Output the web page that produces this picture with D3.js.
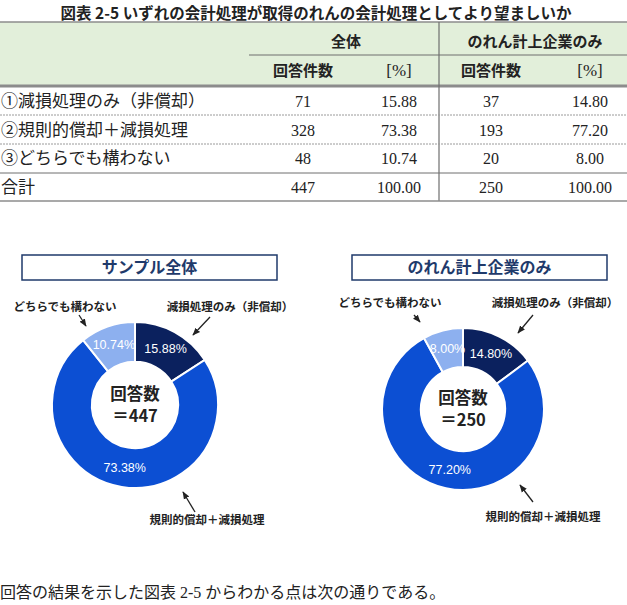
<!DOCTYPE html>
<html>
<head>
<meta charset="utf-8">
<script src="https://cdn.jsdelivr.net/npm/d3@7"></script>
<style>
  body { margin: 0; background: #fff; }
  svg { display: block; }
</style>
</head>
<body>
<div id="chart"></div>
<script>
// data
const categories = ["減損処理のみ（非償却）", "規則的償却＋減損処理", "どちらでも構わない"];
const rowLabels = ["①減損処理のみ（非償却）", "②規則的償却＋減損処理", "③どちらでも構わない", "合計"];
const countsAll = [71, 328, 48];
const pctAll = [15.88, 73.38, 10.74];
const countsGoodwill = [37, 193, 20];
const pctGoodwill = [14.80, 77.20, 8.00];
const totalAll = 447;
const totalGoodwill = 250;
const groupNames = ["全体", "のれん計上企業のみ"];
const colNames = ["回答件数", "[%]"];
const chartTitles = ["サンプル全体", "のれん計上企業のみ"];
const sliceColors = ["#0b215e", "#0c4fd3", "#8db0ef"];

const width = 627, height = 605;
const sans = "'Noto Sans CJK JP', 'Noto Sans', sans-serif";
const serif = "'Liberation Serif', 'Noto Sans CJK JP', serif";

const svg = d3.select("#chart").append("svg")
  .attr("width", width)
  .attr("height", height);

svg.append("defs").append("marker")
  .attr("id", "arrow")
  .attr("viewBox", "0 0 10 10")
  .attr("refX", 9).attr("refY", 5)
  .attr("markerWidth", 6).attr("markerHeight", 6)
  .attr("orient", "auto")
  .append("path")
    .attr("d", "M0,1 L10,5 L0,9 Z")
    .attr("fill", "#222");

// title
svg.append("text")
  .attr("x", 316).attr("y", 19)
  .attr("text-anchor", "middle")
  .style("font-family", sans).style("font-weight", "bold").style("font-size", "15.5px")
  .attr("fill", "#222")
  .text("図表 2-5 いずれの会計処理が取得のれんの会計処理としてより望ましいか");

// ---------- table ----------
const table = svg.append("g");
const colX = [303, 399, 491, 590];   // centres of the value columns
const rowY = d3.scalePoint().domain(d3.range(4)).range([101, 187]);
const divX = 439;

table.append("rect")
  .attr("x", 0).attr("y", 22).attr("width", width).attr("height", 63)
  .attr("fill", "#e2efda");

table.append("line").attr("x1", 0).attr("x2", width).attr("y1", 22).attr("y2", 22)
  .attr("stroke", "#8c8c8c").attr("stroke-width", 1.5);
table.append("line").attr("x1", 249).attr("x2", width).attr("y1", 55).attr("y2", 55)
  .attr("stroke", "#6e6e6e").attr("stroke-width", 1);
table.append("line").attr("x1", 0).attr("x2", width).attr("y1", 86).attr("y2", 86)
  .attr("stroke", "#8c8c8c").attr("stroke-width", 3);
table.append("line").attr("x1", divX).attr("x2", divX).attr("y1", 22).attr("y2", 201)
  .attr("stroke", "#6e6e6e").attr("stroke-width", 1.2);

[115, 144].forEach(y => {
  table.append("line").attr("x1", 0).attr("x2", width).attr("y1", y).attr("y2", y)
    .attr("stroke", "#9a9a9a").attr("stroke-width", 1).attr("stroke-dasharray", "2,1");
});
table.append("line").attr("x1", 0).attr("x2", width).attr("y1", 173).attr("y2", 173)
  .attr("stroke", "#6e6e6e").attr("stroke-width", 1);
table.append("line").attr("x1", 0).attr("x2", width).attr("y1", 201).attr("y2", 201)
  .attr("stroke", "#8c8c8c").attr("stroke-width", 1.5);

// header rows
[346, 535].forEach((x, i) => {
  table.append("text")
    .attr("x", x).attr("y", 47).attr("text-anchor", "middle")
    .style("font-family", sans).style("font-weight", "bold").style("font-size", "15px")
    .attr("fill", "#222")
    .text(groupNames[i]);
});
colX.forEach((x, i) => {
  table.append("text")
    .attr("x", x).attr("y", 76).attr("text-anchor", "middle")
    .style("font-family", i % 2 ? serif : sans)
    .style("font-weight", i % 2 ? "normal" : "bold")
    .style("font-size", i % 2 ? "17px" : "15px")
    .attr("fill", "#222")
    .text(colNames[i % 2]);
});

// body rows
const rows = categories.map((c, i) => [countsAll[i], pctAll[i].toFixed(2), countsGoodwill[i], pctGoodwill[i].toFixed(2)]);
rows.push([totalAll, d3.sum(pctAll).toFixed(2), totalGoodwill, d3.sum(pctGoodwill).toFixed(2)]);

rows.forEach((r, i) => {
  table.append("text")
    .attr("x", 1).attr("y", rowY(i) + 6)
    .style("font-family", serif).style("font-size", "17px")
    .attr("fill", "#222")
    .text(rowLabels[i]);
  r.forEach((v, j) => {
    table.append("text")
      .attr("x", colX[j]).attr("y", rowY(i) + 6)
      .attr("text-anchor", "middle")
      .style("font-family", serif).style("font-size", "16px")
      .attr("fill", "#222")
      .text(v);
  });
});

// ---------- donuts ----------
const charts = [
  { title: chartTitles[0], pct: pctAll, total: totalAll, cx: 135, cy: 405, r: 83, box: [22, 277],
    notes: [
      { dx: 95, dy: -98, a: [75, -88, 58, -70] },
      { dx: 72, dy: 115, a: [60, 107, 48, 87] },
      { dx: -70, dy: -98, a: [-56, -90, -49, -79] }
    ] },
  { title: chartTitles[1], pct: pctGoodwill, total: totalGoodwill, cx: 463, cy: 409, r: 81, box: [352, 607],
    notes: [
      { dx: 92, dy: -106, a: [70, -94, 55, -76] },
      { dx: 80, dy: 108, a: [70, 93, 57, 76] },
      { dx: -73, dy: -106, a: [-49, -94, -43, -87] }
    ] }
];

const pie = d3.pie().sort(null).value(d => d);

charts.forEach(c => {
  // title box
  svg.append("rect")
    .attr("x", c.box[0]).attr("y", 255)
    .attr("width", c.box[1] - c.box[0]).attr("height", 25)
    .attr("fill", "#fff").attr("stroke", "#1f3a6b").attr("stroke-width", 1.5);
  svg.append("text")
    .attr("x", (c.box[0] + c.box[1]) / 2).attr("y", 273)
    .attr("text-anchor", "middle")
    .style("font-family", sans).style("font-weight", "bold").style("font-size", "16px")
    .attr("fill", "#1f3a6b")
    .text(c.title);

  const g = svg.append("g").attr("transform", `translate(${c.cx},${c.cy})`);
  const arc = d3.arc().innerRadius(c.r * 0.52).outerRadius(c.r);
  const labelArc = d3.arc().innerRadius(c.r * 0.56).outerRadius(c.r * 0.98);
  const arcs = pie(c.pct);

  g.selectAll("path.slice")
    .data(arcs)
    .join("path")
      .attr("class", "slice")
      .attr("d", arc)
      .attr("fill", (d, i) => sliceColors[i])
      .attr("stroke", "#fff")
      .attr("stroke-width", 2);

  g.selectAll("text.pct")
    .data(arcs)
    .join("text")
      .attr("class", "pct")
      .attr("transform", d => `translate(${labelArc.centroid(d)})`)
      .attr("text-anchor", "middle")
      .attr("dy", "0.35em")
      .style("font-family", "'Liberation Sans', Arial, sans-serif")
      .style("font-size", "12.5px")
      .attr("fill", "#fff")
      .text(d => d.data.toFixed(2) + "%");

  g.append("text")
    .attr("y", -5).attr("text-anchor", "middle")
    .style("font-family", sans).style("font-weight", "bold").style("font-size", "16.5px")
    .attr("fill", "#222")
    .text("回答数");
  g.append("text")
    .attr("y", 17).attr("text-anchor", "middle")
    .style("font-family", sans).style("font-weight", "bold").style("font-size", "16.5px")
    .attr("fill", "#222")
    .text("＝" + c.total);

  c.notes.forEach((n, i) => {
    g.append("text")
      .attr("x", n.dx).attr("y", n.dy + 4)
      .attr("text-anchor", "middle")
      .style("font-family", sans).style("font-weight", "bold").style("font-size", "11.5px")
      .attr("fill", "#222")
      .text(categories[i]);
    g.append("line")
      .attr("x1", n.a[0]).attr("y1", n.a[1])
      .attr("x2", n.a[2]).attr("y2", n.a[3])
      .attr("stroke", "#222").attr("stroke-width", 1.3)
      .attr("marker-end", "url(#arrow)");
  });
});

// footnote line
svg.append("text")
  .attr("x", 0).attr("y", 598)
  .style("font-family", serif).style("font-size", "16px")
  .attr("fill", "#222")
  .text("回答の結果を示した図表 2-5 からわかる点は次の通りである。");
</script>
</body>
</html>
